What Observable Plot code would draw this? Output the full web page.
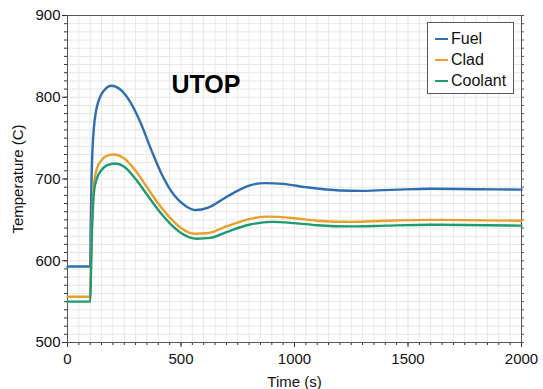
<!DOCTYPE html>
<html>
<head>
<meta charset="utf-8">
<script src="https://cdn.jsdelivr.net/npm/d3@7"></script>
<script src="https://cdn.jsdelivr.net/npm/@observablehq/plot@0.6"></script>
<style>
  body { margin: 0; background: #fff; font-family: "Liberation Sans", Arial, sans-serif; }
  #wrap { position: relative; width: 543px; height: 389px; }
  .legend {
    position: absolute; left: 427px; top: 22px; width: 87px; height: 72px;
    border: 1px solid #555; background: #fff; box-sizing: border-box;
    font-size: 16px; color: #111; padding-top: 5px;
  }
  .legend .row { height: 21px; display: flex; align-items: center; }
  .legend .sw { display: inline-block; width: 13px; height: 2px; margin: 0 3px 0 7px; }
</style>
</head>
<body>
<div id="wrap"></div>
<script>
// Transient temperatures (C) over time (s)
const fuelTime = [0, 100, 102, 106, 110, 116, 125, 140, 160, 195, 230, 270, 320, 370, 420, 470, 520, 565, 620, 700, 800, 870, 950, 1050, 1200, 1300, 1450, 1600, 1800, 2000];
const fuelTemp = [593, 593, 640, 700, 735, 762, 782, 798, 808, 814, 810, 797, 770, 735, 703, 680, 667, 662, 665, 678, 692, 695, 694, 690, 686, 685.5, 687, 688, 687.5, 687];

const cladTime = [0, 100, 103, 107, 112, 118, 130, 150, 175, 205, 250, 300, 350, 400, 450, 500, 560, 620, 700, 800, 880, 1000, 1100, 1250, 1400, 1600, 2000];
const cladTemp = [556, 556, 590, 640, 675, 697, 713, 723, 728.5, 730, 725, 710, 690, 670, 653, 640, 633, 634, 642, 651, 654, 652, 649, 647.5, 649, 650, 649];

const coolantTime = [0, 100, 103, 107, 112, 118, 130, 150, 175, 210, 250, 300, 350, 400, 450, 500, 570, 630, 700, 800, 900, 1000, 1100, 1250, 1400, 1600, 2000];
const coolantTemp = [550, 550, 580, 628, 664, 687, 701, 711, 717, 719, 715, 700, 681, 662, 646, 634, 627, 628, 635, 644, 647.5, 646, 643.5, 642, 643, 644, 643];

const seriesNames = ["Fuel", "Clad", "Coolant"];
const seriesColors = ["#2f6fb0", "#e6a12a", "#1f9a72"];
const xMajorTicks = [0, 500, 1000, 1500, 2000];
const yMajorTicks = [500, 600, 700, 800, 900];

const rows = [];
[[fuelTime, fuelTemp], [cladTime, cladTemp], [coolantTime, coolantTemp]].forEach(([ts, vs], i) => {
  ts.forEach((t, j) => rows.push({series: seriesNames[i], t, v: vs[j]}));
});

const xMinor = d3.range(0, 2001, 50);
const yMinor = d3.range(500, 901, 10);

const chart = Plot.plot({
  width: 543,
  height: 389,
  marginLeft: 67,
  marginRight: 22,
  marginTop: 15,
  marginBottom: 47,
  style: {fontFamily: "Liberation Sans, Arial, sans-serif", fontSize: "15px", color: "#111", background: "#fff"},
  x: {domain: [0, 2000]},
  y: {domain: [500, 900]},
  color: {domain: seriesNames, range: seriesColors},
  marks: [
    Plot.gridX(xMinor, {stroke: "#e6e6e6", strokeOpacity: 1}),
    Plot.gridY(yMinor, {stroke: "#e6e6e6", strokeOpacity: 1}),
    Plot.axisX(xMinor, {tickSize: 3, text: null, label: null, stroke: "#333"}),
    Plot.axisX(xMajorTicks, {tickSize: 5, tickPadding: 6, fontSize: 15, tickFormat: d => String(d), label: "Time (s)", labelAnchor: "center", labelOffset: 44, labelArrow: "none", stroke: "#333"}),
    Plot.axisY(yMinor, {tickSize: 3, text: null, label: null, stroke: "#333"}),
    Plot.axisY(yMajorTicks, {tickSize: 5, tickPadding: 2, fontSize: 15, tickFormat: d => String(d), label: "Temperature (C)", labelAnchor: "center", labelOffset: 55, labelArrow: "none", stroke: "#333"}),
    Plot.axisY(yMinor, {anchor: "right", tickSize: 2, text: null, label: null, stroke: "#555"}),
    Plot.frame({stroke: "#555"}),
    Plot.line(rows, {x: "t", y: "v", z: "series", stroke: "series", strokeWidth: 2.4, curve: "monotone-x"}),
    Plot.text(["UTOP"], {frameAnchor: "top-left", dx: 104, dy: 60, text: d => d, textAnchor: "start", lineAnchor: "top", fontSize: 25, fontWeight: "bold", fill: "#000"})
  ]
});

const wrap = document.getElementById("wrap");
wrap.appendChild(chart);

const legend = document.createElement("div");
legend.className = "legend";
seriesNames.forEach((name, i) => {
  const row = document.createElement("div");
  row.className = "row";
  const sw = document.createElement("span");
  sw.className = "sw";
  sw.style.background = seriesColors[i];
  row.appendChild(sw);
  row.appendChild(document.createTextNode(name));
  legend.appendChild(row);
});
wrap.appendChild(legend);
</script>
</body>
</html>
